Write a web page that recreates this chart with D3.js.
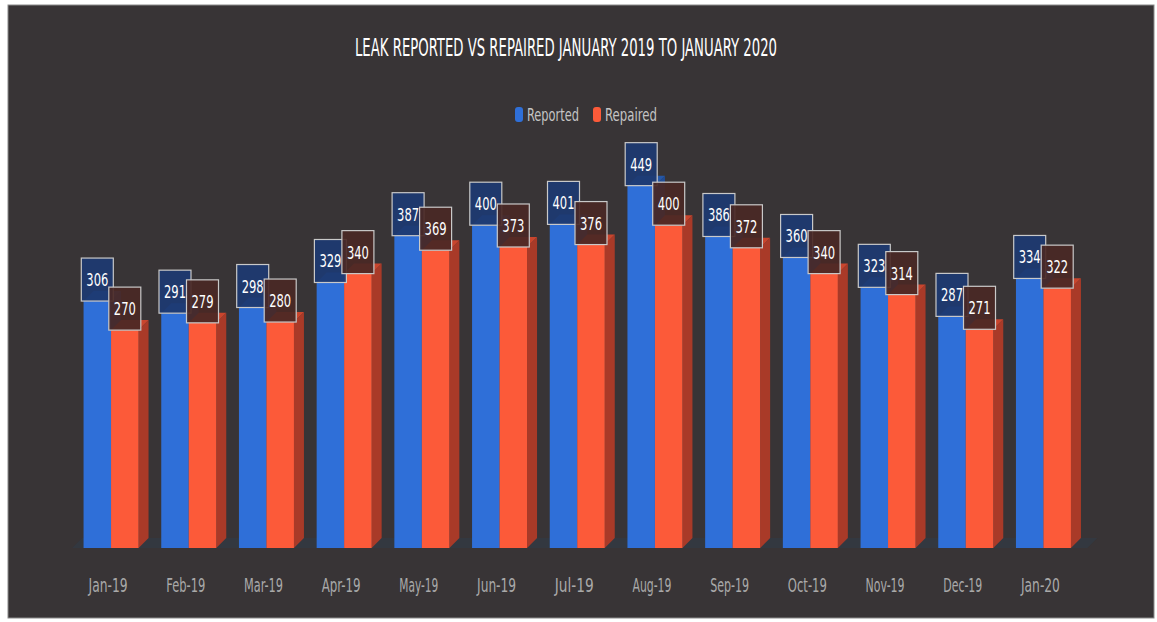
<!DOCTYPE html>
<html>
<head>
<meta charset="utf-8">
<script src="https://cdn.jsdelivr.net/npm/d3@7"></script>
<style>
  body { margin: 0; background: #ffffff; }
  svg { display: block; }
  text { font-family: "Liberation Sans Narrow", "DejaVu Sans Condensed", "Roboto", sans-serif; }
</style>
</head>
<body>
<svg id="chart" width="1157" height="622"></svg>
<script>
// Data
var months   = ["Jan-19","Feb-19","Mar-19","Apr-19","May-19","Jun-19","Jul-19","Aug-19","Sep-19","Oct-19","Nov-19","Dec-19","Jan-20"];
var reported = [306, 291, 298, 329, 387, 400, 401, 449, 386, 360, 323, 287, 334];
var repaired = [270, 279, 280, 340, 369, 373, 376, 400, 372, 340, 314, 271, 322];
var series   = ["Reported", "Repaired"];
var title    = "LEAK REPORTED VS REPAIRED JANUARY 2019 TO JANUARY 2020";

// Styles
var colors = {
  Reported: { front: "#2f6fd8", top: "#2557a8", side: "#1f4c96", label: "#1d3a72" },
  Repaired: { front: "#fc5a39", top: "#c9452d", side: "#a93a28", label: "#4a2825" }
};
var depth = { dx: 10, dy: -10 };

// Build rows
var rows = months.map(function(m, i) {
  return { month: m, values: [ { id: "Reported", value: reported[i] }, { id: "Repaired", value: repaired[i] } ] };
});

var svg = d3.select("#chart");

// Background frame
svg.append("rect")
  .attr("x", 8).attr("y", 5).attr("width", 1146).attr("height", 613)
  .attr("fill", "#383436").attr("stroke", "#8a8a8a").attr("stroke-width", 1);

// Scales
var x   = d3.scaleBand().domain(months).range([72.2, 1082.3]).padding(0);
var xIn = d3.scaleBand().domain(series).range([-27.5, 27.5]).padding(0);
var y   = d3.scaleLinear().domain([0, 500]).range([548, 548 - 403.5]);

// Title
svg.append("text")
  .attr("x", 566).attr("y", 56)
  .attr("text-anchor", "middle")
  .attr("fill", "#ffffff")
  .attr("font-size", 24)
  .attr("textLength", 422).attr("lengthAdjust", "spacingAndGlyphs")
  .text(title);

// Legend
var legendX = [515, 593];
var legend = svg.append("g").selectAll("g.legend").data(series).enter().append("g").attr("class", "legend")
  .attr("transform", function(d, i) { return "translate(" + legendX[i] + ",0)"; });
legend.append("rect")
  .attr("x", 0).attr("y", 107).attr("width", 8).attr("height", 15).attr("rx", 3)
  .attr("fill", function(d) { return colors[d].front; });
legend.append("text")
  .attr("x", 12).attr("y", 121)
  .attr("fill", "#c4c4c4")
  .attr("font-size", 18)
  .attr("textLength", 52).attr("lengthAdjust", "spacingAndGlyphs")
  .text(function(d) { return d; });

// Floor
svg.append("path")
  .attr("d", "M" + (x.range()[0]) + "," + y(0) + " L" + (x.range()[1] + 5) + "," + y(0) +
             " L" + (x.range()[1] + 5 + depth.dx) + "," + (y(0) + depth.dy) + " L" + (x.range()[0] + depth.dx) + "," + (y(0) + depth.dy) + " Z")
  .attr("fill", "#323944").attr("opacity", 0.8);

// Bars
var groups = svg.append("g").selectAll("g.group").data(rows).enter().append("g").attr("class", "group")
  .attr("transform", function(d) { return "translate(" + (x(d.month) + x.bandwidth() / 2) + ",0)"; });

var bars = groups.selectAll("g.bar").data(function(d) { return d.values; }).enter().append("g").attr("class", "bar");
var bw = xIn.bandwidth();

// Side face
bars.append("path")
  .attr("fill", function(d) { return colors[d.id].side; })
  .attr("d", function(d) {
    var x1 = xIn(d.id) + bw, t = y(d.value), b = y(0);
    return "M" + x1 + "," + t + " L" + (x1 + depth.dx) + "," + (t + depth.dy) +
           " L" + (x1 + depth.dx) + "," + (b + depth.dy) + " L" + x1 + "," + b + " Z";
  });

// Top face
bars.append("path")
  .attr("fill", function(d) { return colors[d.id].top; })
  .attr("d", function(d) {
    var x0 = xIn(d.id), x1 = x0 + bw, t = y(d.value);
    return "M" + x0 + "," + t + " L" + (x0 + depth.dx) + "," + (t + depth.dy) +
           " L" + (x1 + depth.dx) + "," + (t + depth.dy) + " L" + x1 + "," + t + " Z";
  });

// Front face
bars.append("rect")
  .attr("x", function(d) { return xIn(d.id); })
  .attr("y", function(d) { return y(d.value); })
  .attr("width", bw)
  .attr("height", function(d) { return y(0) - y(d.value); })
  .attr("fill", function(d) { return colors[d.id].front; });

// Data labels
var labels = groups.selectAll("g.label").data(function(d) { return d.values; }).enter().append("g").attr("class", "label")
  .attr("transform", function(d) { return "translate(" + (xIn(d.id) + bw / 2) + "," + y(d.value) + ")"; });
labels.append("rect")
  .attr("x", -16).attr("y", -43).attr("width", 32).attr("height", 43)
  .attr("fill", function(d) { return colors[d.id].label; })
  .attr("fill-opacity", 0.92)
  .attr("stroke", "#c9c9c9").attr("stroke-width", 1.2);
labels.append("text")
  .attr("x", 0).attr("y", -15)
  .attr("text-anchor", "middle")
  .attr("fill", "#ffffff")
  .attr("font-size", 18)
  .attr("textLength", 22).attr("lengthAdjust", "spacingAndGlyphs")
  .text(function(d) { return d.value; });

// X axis labels
svg.append("g").selectAll("text.tick").data(months).enter().append("text").attr("class", "tick")
  .attr("x", function(d) { return x(d) + x.bandwidth() / 2 - 3; })
  .attr("y", 592)
  .attr("text-anchor", "middle")
  .attr("fill", "#a9a9a9")
  .attr("font-size", 19)
  .attr("textLength", 39).attr("lengthAdjust", "spacingAndGlyphs")
  .text(function(d) { return d; });
</script>
</body>
</html>
